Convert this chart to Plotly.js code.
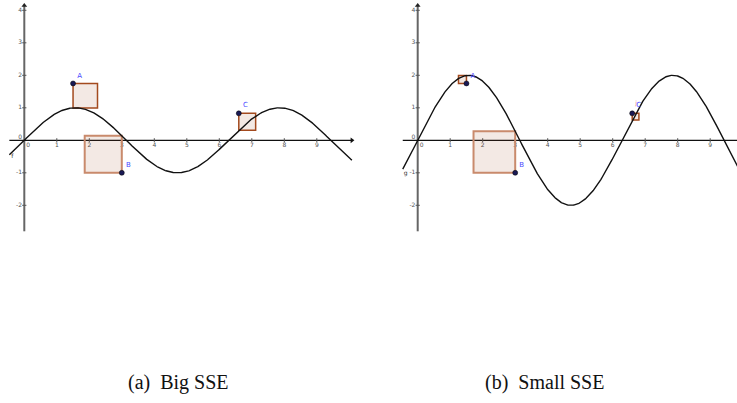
<!DOCTYPE html>
<html>
<head>
<meta charset="utf-8">
<script src="https://cdn.plot.ly/plotly-3.0.1.min.js"></script>
<style>
  html, body { margin: 0; padding: 0; background: #fff; }
  #chart { width: 737px; height: 403px; }
</style>
</head>
<body>
<div id="chart"></div>
<script>
// Observed points (same in both panels)
const pointNames = ['A', 'B', 'C'];
const pointX = [1.5, 3, 6.6];
const pointY = [1.75, -1, 0.83];

// Model amplitude per panel: f(x) = sin x, g(x) = 2 sin x
const amplitudes = [1, 2];
const curveNames = ['f', 'g'];
// Which side of each point its squared-error box sits on (+1 right, -1 left)
const boxSides = [[1, -1, 1], [-1, -1, 1]];

// Axis tick labels
const xTicks = [0, 1, 2, 3, 4, 5, 6, 7, 8, 9];
const yTicks = [-2, -1, 0, 1, 2, 3, 4];

const captions = ['(a)&nbsp; Big SSE', '(b)&nbsp; Small SSE'];

// Panel geometry (32.5 px per unit on both axes)
const W = 737, H = 403, U = 32.5, Y0 = 140.3;
const panels = [
  { left: 0, right: 370, ox: 24.3, xEnd: 10.08, arrow: true, capX: 178 },
  { left: 380, right: 737, ox: 417.7, xEnd: 9.9, arrow: false, capX: 544 }
];

const traces = [];
const shapes = [];
const annotations = [];
const layout = {
  width: W, height: H,
  margin: { l: 0, r: 0, t: 0, b: 0 },
  paper_bgcolor: '#fff', plot_bgcolor: 'rgba(0,0,0,0)',
  showlegend: false,
  shapes, annotations
};

const hidden = { showgrid: false, zeroline: false, showticklabels: false, ticks: '', showline: false, fixedrange: true };

panels.forEach((p, k) => {
  const xa = k === 0 ? 'x' : 'x2';
  const ya = k === 0 ? 'y' : 'y2';
  const amp = amplitudes[k];
  const fn = x => amp * Math.sin(x);

  layout[k === 0 ? 'xaxis' : 'xaxis2'] = Object.assign({}, hidden, {
    domain: [p.left / W, p.right / W],
    range: [-(p.ox - p.left) / U, (p.right - p.ox) / U],
    anchor: ya
  });
  layout[k === 0 ? 'yaxis' : 'yaxis2'] = Object.assign({}, hidden, {
    domain: [0, 1],
    range: [(Y0 - H) / U, Y0 / U],
    anchor: xa
  });

  const yTop = 4.15, yBot = -2.8, xStart = -0.46;
  // y axis (grey) and x axis (black)
  traces.push({ x: [0, 0], y: [yBot, yTop], xaxis: xa, yaxis: ya, mode: 'lines',
    line: { color: '#666', width: 2 }, hoverinfo: 'skip' });
  traces.push({ x: [xStart, p.xEnd], y: [0, 0], xaxis: xa, yaxis: ya, mode: 'lines',
    line: { color: '#111', width: 1.3 }, hoverinfo: 'skip' });
  // axis arrow heads
  traces.push({ x: [0], y: [yTop], xaxis: xa, yaxis: ya, mode: 'markers',
    marker: { symbol: 'triangle-up', size: 5, color: '#222' }, hoverinfo: 'skip' });
  if (p.arrow) {
    traces.push({ x: [p.xEnd], y: [0], xaxis: xa, yaxis: ya, mode: 'markers',
      marker: { symbol: 'triangle-right', size: 5, color: '#111' }, hoverinfo: 'skip' });
  }

  // tick marks
  const xt = xTicks.filter(v => v !== 0);
  const yt = yTicks.filter(v => v !== 0);
  traces.push({ x: xt, y: xt.map(() => 0), xaxis: xa, yaxis: ya, mode: 'markers',
    marker: { symbol: 'line-ns', size: 3, line: { color: '#555', width: 1 } }, hoverinfo: 'skip' });
  traces.push({ x: yt.map(() => 0), y: yt, xaxis: xa, yaxis: ya, mode: 'markers',
    marker: { symbol: 'line-ew', size: 3, line: { color: '#555', width: 1 } }, hoverinfo: 'skip' });

  // tick labels
  traces.push({ x: xTicks.map(v => v === 0 ? 0.12 : v), y: xTicks.map(() => -0.17),
    text: xTicks.map(String), xaxis: xa, yaxis: ya, mode: 'text',
    textfont: { family: 'DejaVu Sans', size: 6, color: '#555' }, hoverinfo: 'skip' });
  traces.push({ x: yTicks.map(() => -0.07), y: yTicks.map(v => v === 0 ? 0.1 : v),
    text: yTicks.map(String), xaxis: xa, yaxis: ya, mode: 'text', textposition: 'middle left',
    textfont: { family: 'DejaVu Sans', size: 6, color: '#555' }, hoverinfo: 'skip' });

  // squared-error boxes
  pointX.forEach((px, i) => {
    const py = pointY[i];
    const fy = fn(px);
    const side = Math.abs(py - fy);
    const x2 = px + boxSides[k][i] * side;
    const big = side > 1;
    traces.push({
      x: [px, x2, x2, px, px], y: [py, py, fy, fy, py],
      xaxis: xa, yaxis: ya, mode: 'lines', fill: 'toself',
      fillcolor: 'rgba(160,70,30,0.12)',
      line: { color: big ? '#c98a6c' : '#a34a1e', width: big ? 2 : 1.5 },
      hoverinfo: 'skip'
    });
  });

  // model curve
  const cx = [];
  for (let x = xStart; x <= p.xEnd + 1e-9; x += 0.02) cx.push(x);
  traces.push({ x: cx, y: cx.map(fn), xaxis: xa, yaxis: ya, mode: 'lines',
    line: { color: '#111', width: 1.4 }, hoverinfo: 'skip' });
  traces.push({ x: [-0.37], y: [k === 0 ? -0.5 : -1.03], text: [curveNames[k]],
    xaxis: xa, yaxis: ya, mode: 'text',
    textfont: { family: 'DejaVu Sans', size: 6, color: '#333' }, hoverinfo: 'skip' });

  // data points
  traces.push({ x: pointX, y: pointY, xaxis: xa, yaxis: ya, mode: 'markers+text',
    text: pointNames, textposition: 'top right',
    textfont: { family: 'DejaVu Sans', size: 7, color: '#4a4aff' },
    marker: { size: 5, color: '#1a1a55', line: { color: '#000', width: 0.5 } },
    hoverinfo: 'skip' });

  if (k === 1) {
    traces.push({ x: [6.72], y: [1.14], text: ['j'], xaxis: xa, yaxis: ya, mode: 'text',
      textfont: { family: 'DejaVu Sans', size: 6, color: '#e08080' }, hoverinfo: 'skip' });
  }

  annotations.push({ xref: 'paper', yref: 'paper', x: p.capX / W, y: 1 - 382 / H,
    text: captions[k], showarrow: false, xanchor: 'center', yanchor: 'middle',
    font: { family: 'Liberation Serif', size: 20, color: '#111' } });
});

Plotly.newPlot('chart', traces, layout, { displayModeBar: false, staticPlot: true });
</script>
</body>
</html>
